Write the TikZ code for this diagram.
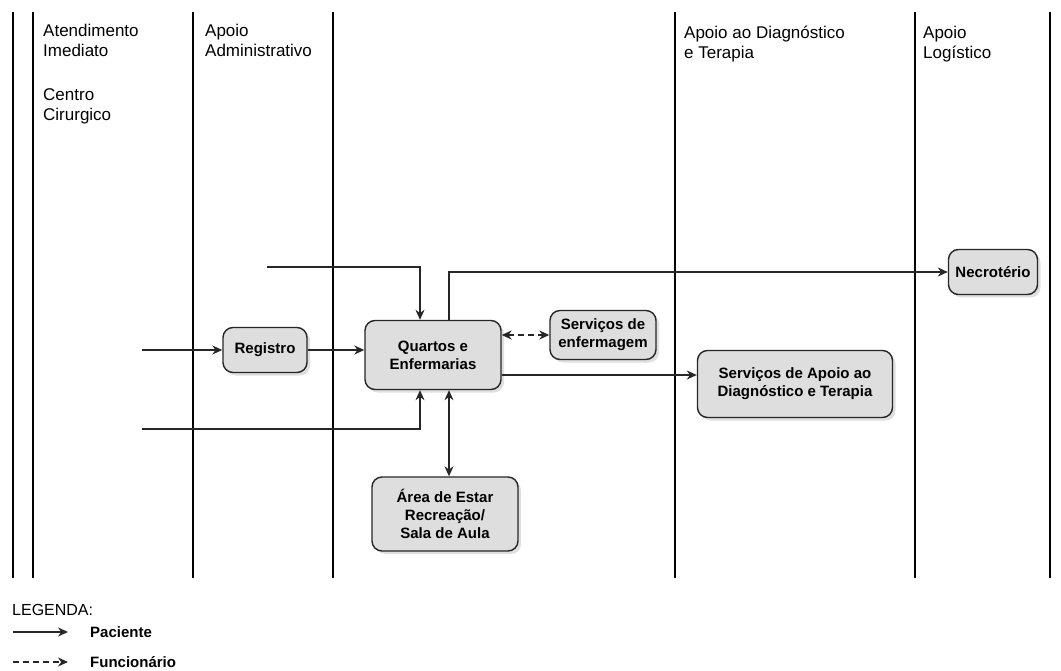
\documentclass[tikz,border=0pt]{standalone}
\usepackage{fontspec}
\setmainfont{Liberation Sans}
\usetikzlibrary{shadows,arrows.meta}

\begin{document}
\begin{tikzpicture}[x=1pt, y=-1pt, >={Stealth[length=10pt,width=9pt]},
  main/.style = {draw=black!85, line width=1.4pt, rounded corners=10pt, fill=black!13, align=center, font=\fontsize{15}{18}\selectfont\bfseries, inner sep=2pt, drop shadow={opacity=0.25, shadow xshift=3pt, shadow yshift=-3pt}},
  lane/.style = {anchor=north west, align=left, inner sep=0pt, font=\fontsize{17}{20}\selectfont},
  flow/.style = {->, line width=1.2pt, draw=black!85}]
\useasboundingbox (0,0) rectangle (1061,671);
% swimlanes
\foreach \x in {13,33,193,333,675,915,1050}
  \draw[line width=1.3pt] (\x,12) -- (\x,578);
\node[lane] (l1) at (43,24) {Atendimento\\Imediato};
\node[lane] (l2) at (43,88) {Centro\\Cirurgico};
\node[lane] (l3) at (205,24) {Apoio\\Administrativo};
\node[lane] (l4) at (684,26) {Apoio ao Diagnóstico\\e Terapia};
\node[lane] (l5) at (923,26) {Apoio\\Logístico};
% boxes
\node[main, minimum width=84pt, minimum height=45pt] (1) at (265,350) {Registro};
\node[main, minimum width=136pt, minimum height=69pt] (2) at (433,355) {Quartos e\\Enfermarias};
\node[main, minimum width=106pt, minimum height=49pt] (3) at (603,335) {Serviços de\\enfermagem};
\node[main, minimum width=195pt, minimum height=67pt] (4) at (795,384) {Serviços de Apoio ao\\Diagnóstico e Terapia};
\node[main, minimum width=89pt, minimum height=45pt] (5) at (993,272) {Necrotério};
\node[main, minimum width=146pt, minimum height=74pt] (6) at (445,514) {Área de Estar\\Recreação/\\Sala de Aula};
\coordinate (a) at (142,350);
\coordinate (b) at (267,267);
\coordinate (c) at (142,429);
% flows
\draw[flow] (a) -- (1.west);
\draw[flow] (1.east) -- (1.east -| 2.west);
\draw[flow] (b) -| ([xshift=-13pt]2.north);
\draw[flow] (c) -| ([xshift=-13pt]2.south);
\draw[flow] ([xshift=16pt]2.north) |- (5.west);
\draw[flow, <->] ([xshift=16pt]2.south) -- ([xshift=16pt]2.south |- 6.north);
\draw[flow, <->, dash pattern=on 6pt off 4pt] (2.east |- 3.west) -- (3.west);
\draw[flow] ([yshift=-20pt]2.east) -- ([yshift=-20pt]2.east -| 4.west);
% legend
\node[anchor=west, inner sep=0pt, font=\fontsize{16}{18}\selectfont] (7) at (12,610) {LEGENDA:};
\node[anchor=west, inner sep=0pt, font=\fontsize{15}{18}\selectfont\bfseries] (8) at (90,632) {Paciente};
\node[anchor=west, inner sep=0pt, font=\fontsize{15}{18}\selectfont\bfseries] (9) at (90,662) {Funcionário};
\coordinate (d1) at (13,632);
\coordinate (d2) at (68,632);
\coordinate (e1) at (13,662);
\coordinate (e2) at (68,662);
\draw[flow] (d1) -- (d2);
\draw[flow, dash pattern=on 6pt off 4pt] (e1) -- (e2);
\end{tikzpicture}
\end{document}
